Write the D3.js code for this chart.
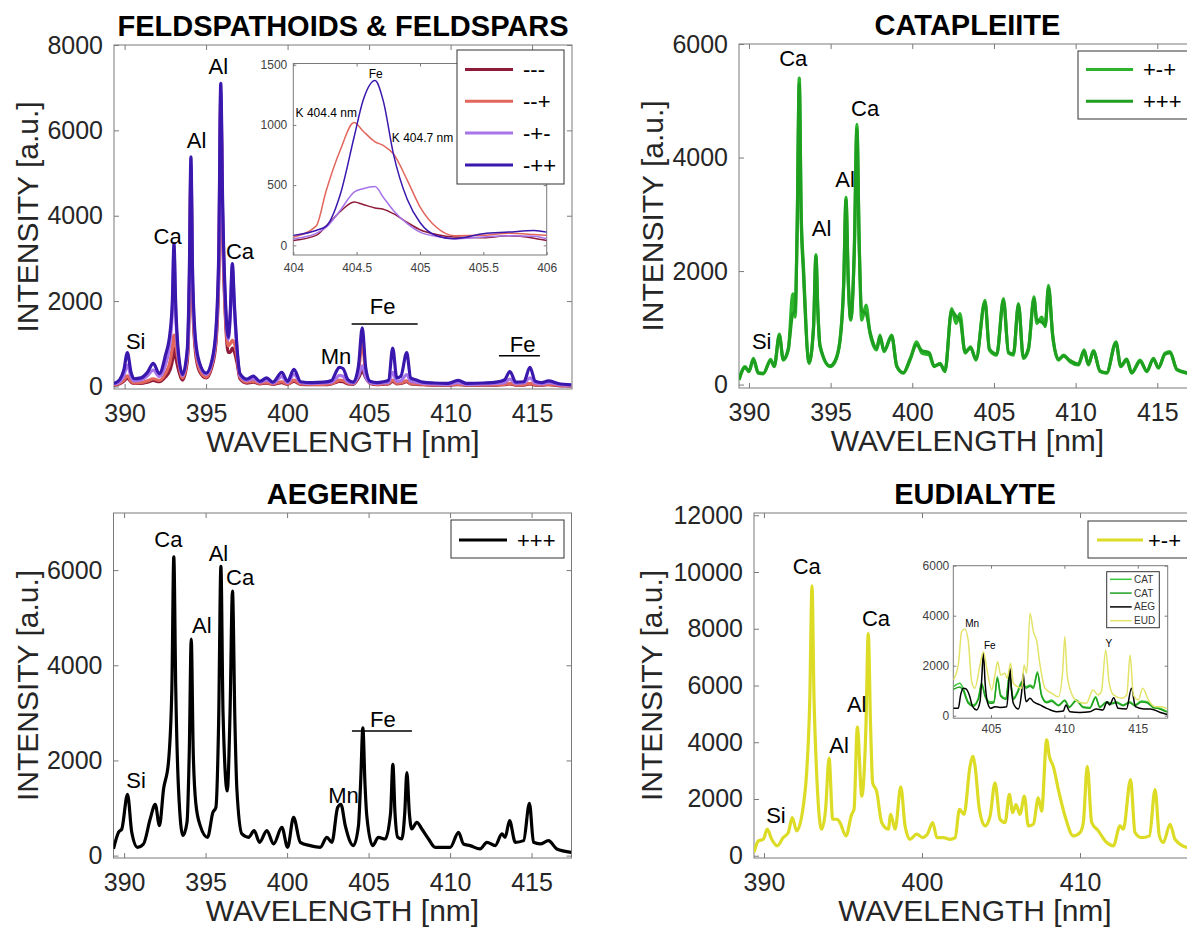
<!DOCTYPE html>
<html>
<head>
<meta charset="utf-8">
<script src="https://cdn.jsdelivr.net/npm/d3@7/dist/d3.min.js"></script>
<style>
  body { margin: 0; background: #fff; }
  svg text { font-family: "Liberation Sans", Arial, sans-serif; }
</style>
</head>
<body>
<script>
// ---------- FELDSPATHOIDS & FELDSPARS : four spectra on one wavelength grid ----------
var fsWl = [389.35, 389.7, 389.95, 390.17, 390.4, 390.6, 391.0, 391.4, 391.76, 392.13,
  392.5, 392.8, 392.93, 393.03, 393.13, 393.3, 393.56, 393.85, 393.97, 394.07,
  394.17, 394.35, 394.6, 395.0, 395.35, 395.6, 395.78, 395.9, 396.02, 396.2,
  396.36, 396.48, 396.61, 396.74, 396.9, 397.08, 397.5, 397.9, 398.3, 398.72,
  399.1, 399.64, 400.0, 400.39, 400.8, 401.5, 402.2, 402.7, 403.0, 403.17,
  403.4, 403.7, 404.03, 404.35, 404.58, 404.8, 405.06, 405.5, 405.87, 406.2,
  406.45, 406.7, 406.95, 407.31, 407.55, 407.9, 408.3, 409.0, 409.8, 410.47,
  411.0, 412.0, 412.8, 413.3, 413.64, 414.0, 414.5, 414.87, 415.2, 415.6,
  416.0, 416.6, 417.4]
var fsMMM = [30, 60, 120, 200, 100, 70, 70, 100, 140, 110,
  220, 400, 600, 900, 700, 400, 150, 600, 2000, 4800,
  2100, 800, 350, 200, 450, 1000, 2600, 6500, 3600, 1500,
  800, 800, 900, 800, 550, 180, 80, 100, 60, 80,
  50, 90, 50, 120, 50, 40, 40, 60, 100, 120,
  110, 60, 50, 200, 360, 200, 70, 40, 50, 60,
  120, 60, 70, 110, 60, 50, 40, 30, 30, 40,
  30, 30, 30, 40, 60, 30, 30, 60, 30, 30,
  40, 20, 10]
var fsMMP = [40, 80, 150, 250, 120, 80, 90, 130, 180, 140,
  300, 600, 900, 1200, 1000, 600, 200, 700, 2200, 5000,
  2300, 900, 400, 220, 500, 1100, 2800, 6700, 3800, 1600,
  950, 1000, 1080, 1000, 700, 220, 100, 120, 70, 90,
  60, 110, 60, 150, 60, 50, 50, 70, 120, 150,
  140, 80, 60, 350, 1010, 300, 80, 50, 60, 70,
  150, 70, 80, 130, 70, 60, 50, 40, 40, 50,
  40, 40, 40, 50, 70, 40, 40, 70, 40, 40,
  50, 30, 20]
var fsMPM = [50, 110, 250, 500, 220, 130, 150, 250, 380, 230,
  500, 1100, 1800, 3200, 1800, 700, 250, 800, 2400, 5200,
  2500, 1000, 500, 280, 550, 1200, 3000, 6900, 4000, 1800,
  1100, 1600, 2800, 1800, 850, 260, 140, 180, 100, 150,
  80, 230, 90, 280, 90, 70, 80, 100, 200, 260,
  240, 110, 80, 250, 480, 220, 90, 70, 80, 100,
  330, 120, 130, 280, 120, 100, 70, 60, 50, 90,
  50, 60, 70, 90, 170, 70, 80, 200, 80, 60,
  90, 50, 30]
var fsMPP = [70, 160, 380, 790, 320, 180, 200, 330, 540, 300,
  720, 1300, 2000, 3350, 2000, 800, 280, 900, 2600, 5380,
  2700, 1100, 550, 310, 600, 1300, 3200, 7100, 4200, 1900,
  1150, 1700, 2880, 1900, 900, 300, 170, 240, 120, 200,
  100, 330, 120, 400, 110, 90, 100, 140, 360, 450,
  420, 160, 100, 480, 1370, 420, 120, 90, 110, 150,
  900, 200, 240, 790, 200, 150, 100, 80, 70, 140,
  70, 80, 100, 150, 350, 100, 110, 450, 120, 90,
  130, 70, 40]
var fsNames = ["---", "--+", "-+-", "-++"]
var fsPeaks = [["Si", 390.68, 1064], ["Ca", 392.64, 3508], ["Al", 394.42, 5773], ["Al", 395.75, 7491],
  ["Ca", 397.08, 3172], ["Mn", 402.97, 712], ["Fe", 405.83, 1867], ["Fe", 414.42, 986]]
var fsBars = [[403.93, 407.98, 1462], [412.97, 415.48, 719]]

// inset: zoom on the K / Fe doublet
var kWl = [404.0, 404.18, 404.26, 404.37, 404.48, 404.55, 404.645, 404.71, 404.79, 404.9,
  405.0, 405.13, 405.27, 405.5, 405.7, 405.9, 406.0]
var kMMM = [41, 83, 160, 280, 360, 340, 310, 300, 263, 190, 130, 90, 69, 63, 80, 60, 41]
var kMMP = [70, 160, 456, 790, 1020, 950, 860, 830, 760, 540, 320, 150, 80, 83, 100, 90, 83]
var kMPM = [55, 100, 150, 290, 442, 470, 489, 400, 290, 180, 110, 75, 55, 69, 80, 75, 55]
var kMPP = [83, 124, 160, 420, 900, 1200, 1368, 1200, 760, 380, 190, 80, 55, 97, 110, 124, 110]
var kPeaks = [["Fe", 404.65, 1426], ["K 404.4 nm", 404.26, 1097], ["K 404.7 nm", 405.02, 895]]

// ---------- CATAPLEIITE ----------
var catWl = [389.39, 389.76, 390.0, 390.27, 390.57, 390.88, 391.33, 391.55, 391.86, 392.1,
  392.41, 392.68, 392.83, 392.95, 393.08, 393.2, 393.33, 393.68, 393.95, 394.1,
  394.22, 394.35, 394.96, 395.27, 395.57, 395.8, 395.94, 396.08, 396.23, 396.45,
  396.61, 396.75, 396.9, 397.17, 397.41, 397.82, 398.02, 398.27, 398.74, 399.05,
  399.45, 399.86, 400.27, 400.58, 401.04, 401.33, 401.7, 402.0, 402.41, 402.68,
  402.92, 403.23, 403.57, 403.9, 404.45, 404.72, 405.17, 405.58, 405.89, 406.19,
  406.5, 406.8, 407.11, 407.45, 407.62, 407.93, 408.14, 408.34, 408.6, 408.95,
  409.26, 409.67, 410.17, 410.52, 410.78, 411.09, 411.5, 411.9, 412.47, 412.76,
  413.13, 413.43, 413.95, 414.36, 414.76, 415.07, 415.48, 415.78, 416.2, 416.83,
  417.37]
var catPMP = [82, 316, 228, 463, 200, 190, 446, 316, 890, 430,
  610, 1600, 1190, 2800, 5400, 3000, 2130, 375, 1000, 2290,
  1300, 667, 316, 400, 784, 1800, 3300, 1800, 1135, 2400,
  4585, 2500, 1135, 1400, 900, 610, 870, 580, 870, 316,
  200, 430, 754, 555, 520, 316, 375, 228, 1340, 1080,
  1250, 555, 667, 430, 1485, 610, 520, 1515, 555, 520,
  1428, 463, 610, 1545, 1080, 1190, 1020, 1750, 840, 430,
  520, 400, 345, 610, 345, 600, 228, 200, 754, 316,
  430, 200, 430, 228, 463, 290, 555, 580, 260, 200,
  180]
var catPPP = [90, 300, 240, 440, 210, 200, 420, 330, 860, 450,
  640, 1250, 1300, 2700, 5300, 2900, 2000, 390, 980, 2250,
  1280, 690, 330, 420, 760, 1750, 3250, 1850, 1160, 2350,
  4500, 2450, 1300, 1250, 930, 640, 840, 600, 850, 330,
  210, 450, 700, 600, 560, 330, 360, 240, 1300, 1200,
  1150, 580, 640, 450, 1450, 630, 540, 1480, 570, 540,
  1400, 480, 640, 1500, 1150, 1100, 1050, 1700, 860, 450,
  500, 420, 360, 590, 360, 580, 240, 210, 730, 330,
  450, 210, 410, 240, 450, 300, 540, 560, 270, 210,
  190]
var catNames = ["+-+", "+++"]
var catPeaks = [["Ca", 392.71, 5753], ["Al", 394.45, 2761], ["Al", 395.88, 3620], ["Ca", 397.11, 4866], ["Si", 390.78, 766]]

// ---------- AEGERINE ----------
var aegWl = [389.35, 389.66, 389.86, 390.21, 390.47, 390.82, 391.19, 391.6, 391.91, 392.17,
  392.42, 392.72, 392.93, 393.05, 393.17, 393.34, 393.61, 393.86, 394.0, 394.12,
  394.24, 394.4, 394.67, 395.12, 395.45, 395.63, 395.8, 395.94, 396.07, 396.33,
  396.5, 396.65, 396.8, 396.92, 397.23, 397.64, 397.98, 398.31, 398.76, 399.17,
  399.68, 400.03, 400.4, 400.81, 401.42, 402.03, 402.44, 402.75, 403.1, 403.3,
  403.57, 404.07, 404.38, 404.52, 404.65, 404.78, 404.89, 405.25, 405.6, 406.02,
  406.35, 406.49, 406.62, 406.79, 407.04, 407.22, 407.35, 407.5, 407.65, 407.96,
  408.27, 408.68, 409.09, 410.01, 410.52, 410.82, 411.23, 411.84, 412.26, 412.77,
  413.18, 413.38, 413.65, 414.0, 414.51, 414.87, 415.12, 415.53, 416.04, 416.55,
  417.43]
var aegPPP = [140, 490, 560, 1290, 490, 175, 245, 768, 1080, 630,
  1395, 1955, 3500, 6280, 3500, 1395, 420, 700, 2200, 4550,
  2200, 1100, 630, 385, 910, 1010, 2800, 6080, 3000, 1360,
  3000, 5560, 2800, 1395, 455, 385, 525, 280, 525, 245,
  595, 175, 803, 280, 210, 175, 385, 280, 1010, 1080,
  630, 210, 630, 1600, 2685, 1500, 840, 210, 385, 350,
  900, 1920, 900, 385, 350, 900, 1745, 900, 560, 700,
  560, 350, 175, 175, 490, 245, 210, 140, 280, 210,
  455, 385, 735, 280, 315, 1100, 280, 245, 315, 140,
  70]
var aegNames = ["+++"]
var aegPeaks = [["Si", 390.74, 1589], ["Ca", 392.72, 6648], ["Al", 394.77, 4847], ["Al", 395.79, 6354],
  ["Ca", 397.12, 5850], ["Mn", 403.46, 1274], ["Fe", 405.88, 2865]]
var aegBars = [[403.98, 407.66, 2619]]

// ---------- EUDIALYTE ----------
var eudWl = [389.37, 389.65, 389.96, 390.21, 390.49, 390.84, 391.22, 391.54, 391.79, 392.07,
  392.49, 392.7, 392.9, 393.04, 393.17, 393.29, 393.65, 393.9, 394.12, 394.35,
  394.64, 394.81, 395.19, 395.55, 395.7, 395.91, 396.19, 396.45, 396.6, 396.75,
  396.88, 397.13, 397.45, 397.87, 398.02, 398.3, 398.66, 398.93, 399.24, 399.66,
  400.05, 400.34, 400.68, 400.94, 401.36, 401.78, 402.1, 402.37, 402.66, 403.04,
  403.21, 403.36, 403.63, 403.99, 404.31, 404.62, 404.94, 405.26, 405.53, 405.74,
  405.95, 406.2, 406.48, 406.73, 407.05, 407.36, 407.57, 407.89, 408.06, 408.31,
  408.63, 409.05, 409.58, 410.0, 410.21, 410.46, 410.74, 411.16, 411.69, 412.11,
  412.53, 412.74, 413.2, 413.48, 413.9, 414.39, 414.75, 415.02, 415.27, 415.7,
  416.01, 416.77, 417.34]
var eudPMP = [120, 525, 580, 935, 580, 350, 640, 815, 1345, 875,
  1750, 2920, 5500, 9515, 5500, 3500, 935, 1635, 3445, 1285,
  1285, 1170, 700, 1460, 1635, 4530, 2100, 4500, 7825, 4500,
  2570, 2275, 1170, 935, 1460, 935, 2430, 1050, 580, 760,
  640, 760, 1170, 640, 640, 580, 640, 1635, 1460, 3150,
  3500, 3150, 1635, 1050, 1400, 2570, 1285, 1170, 2160, 1520,
  1800, 1460, 2100, 1050, 1110, 2040, 1575, 4085, 3500, 3150,
  2330, 1400, 700, 815, 1170, 3150, 1170, 875, 465, 350,
  1050, 935, 2685, 815, 640, 700, 2330, 700, 465, 1110,
  580, 290, 250]
var eudNames = ["+-+"]
var eudPeaks = [["Si", 390.76, 1435], ["Ca", 392.71, 10187], ["Al", 394.75, 3902], ["Al", 395.87, 5347], ["Ca", 397.09, 8368]]

// inset: 402-417 nm comparison of the four minerals
var insCatWl = [402.43, 402.88, 403.1, 403.45, 403.79, 404.13, 404.36, 404.59, 404.93, 405.2,
  405.43, 405.66, 406.02, 406.25, 406.52, 406.8, 407.09, 407.39, 407.66, 407.89,
  408.16, 408.45, 408.79, 409.13, 409.59, 410.03, 410.32, 410.82, 411.27, 411.73,
  412.13, 412.41, 412.86, 413.2, 413.54, 414.0, 414.45, 414.79, 415.25, 415.63,
  416.04, 416.5, 417.0]
var insCat1 = [1160, 1300, 1100, 560, 430, 700, 1300, 830, 560, 560,
  1560, 830, 700, 1630, 700, 960, 1360, 1160, 1230, 1160,
  1760, 830, 560, 630, 430, 630, 360, 630, 360, 330,
  760, 360, 560, 500, 560, 430, 560, 430, 590, 560,
  360, 295, 160]
var insCat2 = [1050, 1150, 1000, 500, 380, 650, 1250, 780, 500, 520,
  1500, 780, 650, 1580, 650, 900, 1300, 1100, 1180, 1100,
  1700, 780, 520, 580, 400, 600, 330, 600, 330, 300,
  720, 330, 520, 470, 520, 400, 520, 400, 550, 520,
  330, 270, 140]
var insAegWl = [402.43, 402.77, 402.93, 403.11, 403.3, 403.52, 403.75, 404.02, 404.25, 404.36,
  404.48, 404.6, 404.75, 404.98, 405.27, 405.61, 406.07, 406.18, 406.29, 406.4,
  406.52, 406.86, 407.08, 407.2, 407.3, 407.39, 407.66, 407.89, 408.34, 408.79,
  409.47, 409.93, 410.1, 410.37, 411.05, 411.73, 412.18, 412.63, 412.91, 413.09,
  413.36, 413.66, 414.23, 414.57, 414.84, 415.41, 415.86, 416.54, 417.0]
var insAeg = [295, 295, 830, 1100, 1070, 830, 360, 230, 560, 1400,
  2500, 1300, 560, 295, 360, 330, 360, 1000, 1900, 1000,
  500, 270, 900, 1700, 900, 560, 700, 560, 430, 295,
  160, 190, 430, 160, 130, 160, 270, 230, 560, 430,
  720, 295, 270, 1100, 360, 270, 270, 130, 50]
var insEudWl = [402.43, 402.77, 403.0, 403.22, 403.45, 403.68, 403.9, 404.25, 404.48, 404.75,
  405.05, 405.27, 405.45, 405.66, 405.95, 406.1, 406.34, 406.52, 406.8, 407.1,
  407.25, 407.43, 407.66, 407.89, 408.11, 408.34, 408.68, 409.13, 409.59, 409.88,
  410.03, 410.19, 410.48, 410.93, 411.5, 411.95, 412.29, 412.52, 412.82, 413.04,
  413.34, 413.91, 414.25, 414.48, 414.7, 415.04, 415.34, 415.72, 416.18, 416.63,
  417.0]
var insEud = [1430, 2030, 3360, 3470, 3000, 1360, 1100, 2030, 2560, 1760,
  1030, 1630, 2160, 1630, 1700, 1500, 2100, 1300, 1160, 1100,
  2030, 1700, 4100, 3360, 3000, 2030, 1100, 900, 760, 1760,
  3160, 1630, 900, 560, 500, 1030, 830, 960, 2630, 1360,
  830, 700, 830, 2430, 830, 630, 1100, 630, 360, 360,
  270]
var insNames = ["CAT", "CAT", "AEG", "EUD"]
var insPeaks = [["Mn", 403.72, 3696], ["Fe", 404.92, 2800], ["Y", 413.03, 2896]]

// ticks
var xTicks5 = [390, 395, 400, 405, 410, 415]
var xTicks10 = [390, 400, 410]
var yTicksFs = [0, 2000, 4000, 6000, 8000]
var yTicksCat = [0, 2000, 4000, 6000]
var yTicksAeg = [0, 2000, 4000, 6000]
var yTicksEud = [0, 2000, 4000, 6000, 8000, 10000, 12000]
var kXTicks = [404, 404.5, 405, 405.5, 406]
var kYTicks = [0, 500, 1000, 1500]
var insXTicks = [405, 410, 415]
var insYTicks = [0, 2000, 4000, 6000]

// ---------- styles ----------
var fsColors = ["#8e1b3a", "#e2665c", "#a774ea", "#3a17ad"]
var catColors = ["#2cb42c", "#1f9f1f"]
var insColors = ["#3cc83c", "#20a020", "#000000", "#e3e36a"]
var eudColor = "#dcdc26"

var mainStyle = { font: 25, tick: 5, xPad: 15, yPad: 11, boxColor: "#7a7a7a", textColor: "#262626" }
var insetStyle = { font: 12, tick: 3, xPad: 8, yPad: 6, boxColor: "#7a7a7a", textColor: "#404040" }
var insetStyle4 = { font: 12, tick: 3, xPad: 6, yPad: 4, boxColor: "#7a7a7a", textColor: "#404040" }

let svgWidth = 1187
let svgHeight = 936

var svg = d3.select("body")
  .append('svg')
  .attr('width', svgWidth)
  .attr('height', svgHeight)
  .style("background", "#fff")

var clipCount = 0

function pairs(wl, vals) {
  return wl.map((w, i) => [w, vals[i]]).filter(p => p[1] != null)
}

function addAxis(sel, axis, st) {
  sel.call(axis)
  sel.select(".domain").remove()
  sel.attr("font-family", null).attr("font-size", st.font)
  sel.selectAll(".tick line").attr("stroke", st.boxColor)
  sel.selectAll(".tick text").attr("fill", st.textColor)
}

function makePanel(box, xDomain, yDomain, xTicks, yTicks, st, fmt) {
  var x = d3.scaleLinear().domain(xDomain).range([box.left, box.right])
  var y = d3.scaleLinear().domain(yDomain).range([box.bottom, box.top])
  var g = svg.append("g")
  var id = "clip" + (clipCount++)
  g.append("clipPath").attr("id", id).append("rect")
    .attr("x", box.left).attr("y", box.top)
    .attr("width", box.right - box.left).attr("height", box.bottom - box.top)

  g.append("rect")
    .attr("x", box.left).attr("y", box.top)
    .attr("width", box.right - box.left).attr("height", box.bottom - box.top)
    .attr("fill", "#fff").attr("stroke", st.boxColor).attr("stroke-width", 1)

  var f = fmt || (d => d)
  addAxis(g.append("g").attr("transform", `translate(0,${box.bottom})`),
    d3.axisBottom(x).tickValues(xTicks).tickFormat(f).tickSizeInner(-st.tick).tickSizeOuter(0).tickPadding(st.xPad), st)
  addAxis(g.append("g").attr("transform", `translate(0,${box.top})`),
    d3.axisTop(x).tickValues(xTicks).tickFormat("").tickSizeInner(-st.tick).tickSizeOuter(0), st)
  addAxis(g.append("g").attr("transform", `translate(${box.left},0)`),
    d3.axisLeft(y).tickValues(yTicks).tickFormat(d => d).tickSizeInner(-st.tick).tickSizeOuter(0).tickPadding(st.yPad), st)
  addAxis(g.append("g").attr("transform", `translate(${box.right},0)`),
    d3.axisRight(y).tickValues(yTicks).tickFormat("").tickSizeInner(-st.tick).tickSizeOuter(0), st)

  var plot = g.append("g").attr("clip-path", `url(#${id})`)
  return { g: g, plot: plot, x: x, y: y, box: box }
}

function drawSeries(p, wl, vals, color, width) {
  var line = d3.line()
    .x(d => p.x(d[0]))
    .y(d => p.y(d[1]))
    .curve(d3.curveMonotoneX)
  p.plot.append("path")
    .datum(pairs(wl, vals))
    .attr("d", line)
    .attr("fill", "none")
    .attr("stroke", color)
    .attr("stroke-width", width)
    .attr("stroke-linejoin", "round")
}

function addPeakLabels(p, labels, size) {
  p.g.selectAll(null).data(labels).enter().append("text")
    .attr("x", d => p.x(d[1]))
    .attr("y", d => p.y(d[2]))
    .attr("dy", "0.35em")
    .attr("text-anchor", "middle")
    .attr("font-size", size)
    .attr("fill", "#000")
    .text(d => d[0])
}

function addBars(p, bars) {
  p.g.selectAll(null).data(bars).enter().append("line")
    .attr("x1", d => p.x(d[0])).attr("x2", d => p.x(d[1]))
    .attr("y1", d => p.y(d[2])).attr("y2", d => p.y(d[2]))
    .attr("stroke", "#000").attr("stroke-width", 1.5)
}

function addTexts(p, title) {
  var b = p.box
  var cx = (b.left + b.right) / 2
  var cy = (b.top + b.bottom) / 2
  p.g.append("text").attr("x", cx).attr("y", b.top - 9)
    .attr("text-anchor", "middle").attr("font-size", 29).attr("font-weight", "bold").attr("fill", "#000")
    .text(title)
  p.g.append("text").attr("x", cx).attr("y", b.bottom + 63)
    .attr("text-anchor", "middle").attr("font-size", 30).attr("fill", "#262626")
    .text("WAVELENGTH [nm]")
  var lx = b.left - 76 - (b.yLabelShift || 0)
  p.g.append("text")
    .attr("transform", `translate(${lx},${cy}) rotate(-90)`)
    .attr("text-anchor", "middle").attr("font-size", 30).attr("fill", "#262626")
    .text("INTENSITY [a.u.]")
}

function addLegend(g, bx, names, colors, st) {
  g.append("rect")
    .attr("x", bx.x).attr("y", bx.y).attr("width", bx.w).attr("height", bx.h)
    .attr("fill", "#fff").attr("stroke", "#333").attr("stroke-width", 1)
  names.forEach((n, i) => {
    var yy = bx.y + bx.row0 + i * bx.step
    g.append("line")
      .attr("x1", bx.x + bx.l0).attr("x2", bx.x + bx.l1)
      .attr("y1", yy).attr("y2", yy)
      .attr("stroke", colors[i]).attr("stroke-width", st.lw)
    g.append("text")
      .attr("x", bx.x + bx.tx).attr("y", yy).attr("dy", "0.35em")
      .attr("font-size", st.font).attr("fill", st.color || "#000")
      .text(n)
  })
}

// ---------- panel 1 ----------
var p1 = makePanel({ left: 114, right: 572, top: 45, bottom: 389 }, [389.35, 417.45], [-60, 8000], xTicks5, yTicksFs, mainStyle)
var fsSeries = [fsMMM, fsMMP, fsMPM, fsMPP]
fsSeries.forEach((s, i) => drawSeries(p1, fsWl, s, fsColors[i], 3.2))
addPeakLabels(p1, fsPeaks, 22)
addBars(p1, fsBars)
addTexts(p1, "FELDSPATHOIDS & FELDSPARS")

var k = makePanel({ left: 293.3, right: 546.7, top: 63.5, bottom: 255 }, [404, 406], [-80, 1510], kXTicks, kYTicks, insetStyle, d => String(d))
var kSeries = [kMMM, kMMP, kMPM, kMPP]
kSeries.forEach((s, i) => drawSeries(k, kWl, s, fsColors[i], 1.5))
addPeakLabels(k, kPeaks, 12)

addLegend(svg.append("g"), { x: 457, y: 50, w: 107, h: 134, row0: 19.5, step: 31.8, l0: 8, l1: 56, tx: 66 }, fsNames, fsColors, { lw: 3, font: 22 })

// ---------- panel 2 ----------
var p2 = makePanel({ left: 739, right: 1196, top: 44, bottom: 388 }, [389.39, 417.37], [-60, 6000], xTicks5, yTicksCat, mainStyle)
drawSeries(p2, catWl, catPMP, catColors[0], 3.2)
drawSeries(p2, catWl, catPPP, catColors[1], 3.2)
addPeakLabels(p2, catPeaks, 22)
addTexts(p2, "CATAPLEIITE")
addLegend(svg.append("g"), { x: 1078, y: 51, w: 130, h: 68, row0: 18.5, step: 31.7, l0: 8, l1: 55, tx: 65 }, catNames, catColors, { lw: 3, font: 22 })

// ---------- panel 3 ----------
var p3 = makePanel({ left: 113.5, right: 571.5, top: 513, bottom: 858 }, [389.35, 417.45], [-50, 7200], xTicks5, yTicksAeg, mainStyle)
drawSeries(p3, aegWl, aegPPP, "#000", 3.2)
addPeakLabels(p3, aegPeaks, 22)
addBars(p3, aegBars)
addTexts(p3, "AEGERINE")
addLegend(svg.append("g"), { x: 451, y: 520, w: 113, h: 38, row0: 20, step: 0, l0: 8, l1: 56, tx: 66 }, aegNames, ["#000"], { lw: 3, font: 22 })

// ---------- panel 4 ----------
var p4box = { left: 754, right: 1196, top: 513, bottom: 858, yLabelShift: 16 }
var p4 = makePanel(p4box, [389.37, 417.34], [-80, 12080], xTicks10, yTicksEud, mainStyle)
drawSeries(p4, eudWl, eudPMP, eudColor, 3.2)
addPeakLabels(p4, eudPeaks, 22)
addTexts(p4, "EUDIALYTE")

var ins = makePanel({ left: 953.3, right: 1167.7, top: 565.7, bottom: 718.2 }, [402.43, 417.04], [-100, 6000], insXTicks, insYTicks, insetStyle4)
drawSeries(ins, insCatWl, insCat1, insColors[0], 1.5)
drawSeries(ins, insCatWl, insCat2, insColors[1], 1.5)
drawSeries(ins, insAegWl, insAeg, insColors[2], 1.5)
drawSeries(ins, insEudWl, insEud, insColors[3], 1.5)
addPeakLabels(ins, insPeaks, 10)
addLegend(svg.append("g"), { x: 1106.7, y: 571.7, w: 52.6, h: 56, row0: 7.6, step: 13.8, l0: 3.3, l1: 25, tx: 27.3 }, insNames, insColors, { lw: 1.5, font: 10, color: "#333" })

addLegend(svg.append("g"), { x: 1088, y: 521, w: 120, h: 37, row0: 19, step: 0, l0: 9, l1: 55, tx: 60 }, eudNames, [eudColor], { lw: 3, font: 22 })
</script>
</body>
</html>
